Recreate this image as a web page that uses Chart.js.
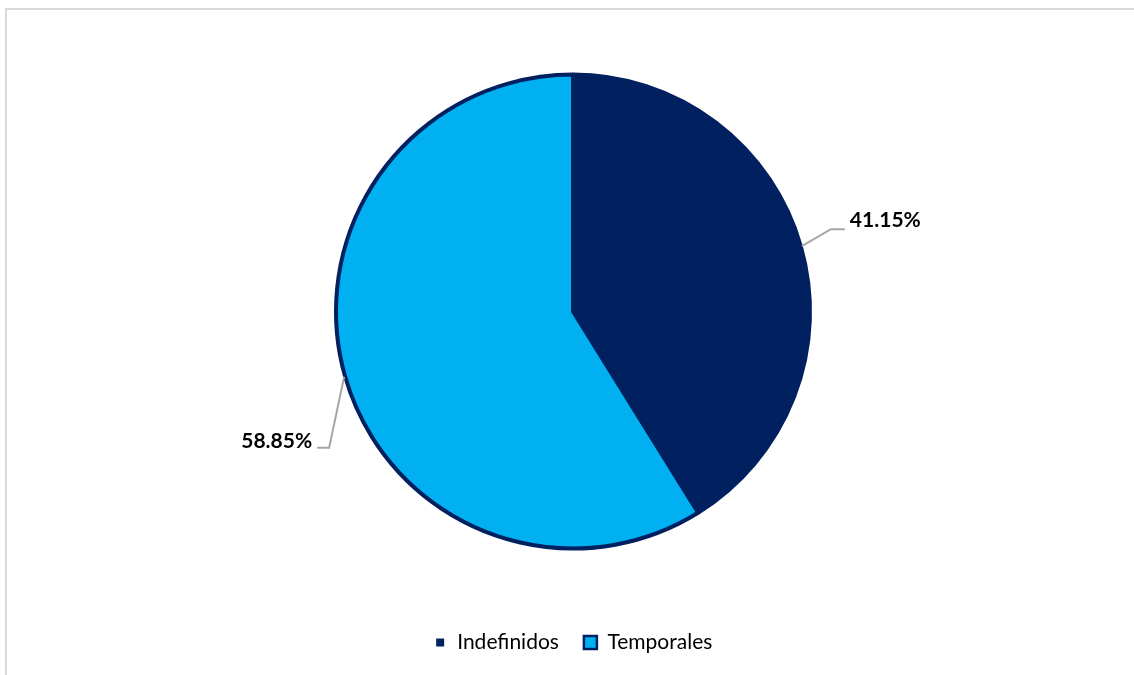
<!DOCTYPE html>
<html>
<head>
<meta charset="utf-8">
<script src="https://cdn.jsdelivr.net/npm/chart.js@4.4.0/dist/chart.umd.min.js"></script>
<style>
  html, body { margin: 0; padding: 0; background: #fff; overflow: hidden; }
  #frame {
    position: absolute; left: 5px; top: 8px; width: 1129px; height: 667px;
    border-top: 2px solid #d9d9d9; border-left: 2px solid #d9d9d9;
    box-sizing: border-box;
  }
  #wrap { position: absolute; left: 0; top: 0; width: 1134px; height: 675px; }
</style>
</head>
<body>
<div id="frame"></div>
<div id="wrap"><canvas id="chart" width="1134" height="675"></canvas></div>
<script>
const categorias = ['Indefinidos', 'Temporales'];
const porcentajes = [41.15, 58.85];
const etiquetas = ['41.15%', '58.85%'];

const azulOscuro = '#002060';
const azulClaro = '#00b0f0';

// leader line offsets from the slice edge (elbow, end, text anchor)
const guias = [
  { elbow: [29, -17], end: [43, -17], text: [48, -26], align: 'left' },
  { elbow: [-15, 71], end: [-27, 71], text: [-32, 64], align: 'right' }
];

const etiquetasPlugin = {
  id: 'etiquetas',
  afterDatasetsDraw(chart) {
    const ctx = chart.ctx;
    const meta = chart.getDatasetMeta(0);
    meta.data.forEach((arc, i) => {
      const p = arc.getProps(['x', 'y', 'startAngle', 'endAngle', 'outerRadius'], true);
      const mid = (p.startAngle + p.endAngle) / 2;
      const ex = p.x + Math.cos(mid) * (p.outerRadius + 1);
      const ey = p.y + Math.sin(mid) * (p.outerRadius + 1);
      const g = guias[i];
      ctx.save();
      ctx.strokeStyle = '#a6a6a6';
      ctx.lineWidth = 2;
      ctx.beginPath();
      ctx.moveTo(ex, ey);
      ctx.lineTo(ex + g.elbow[0], ey + g.elbow[1]);
      ctx.lineTo(ex + g.end[0], ey + g.end[1]);
      ctx.stroke();
      ctx.fillStyle = '#000';
      ctx.font = 'bold 21px Lato';
      ctx.textAlign = g.align;
      ctx.textBaseline = 'middle';
      ctx.fillText(etiquetas[i], ex + g.text[0], ey + g.text[1]);
      ctx.restore();
    });
  }
};

const ctx = document.getElementById('chart');

let mainChart = new Chart(ctx, {
  type: 'pie',
  data: {
    labels: categorias,
    datasets: [{
      data: porcentajes,
      backgroundColor: [azulOscuro, azulClaro],
      borderColor: [azulOscuro, azulOscuro],
      borderWidth: 4,
      radius: 237
    }]
  },
  options: {
    responsive: false,
    animation: false,
    layout: { padding: { top: 16, bottom: 12, left: 12, right: 0 } },
    plugins: {
      tooltip: { enabled: false },
      legend: {
        position: 'bottom',
        labels: {
          color: '#000',
          font: { family: 'Lato', size: 21 },
          boxWidth: 13,
          boxHeight: 13,
          padding: 25,
          generateLabels(chart) {
            return [
              { text: categorias[0], fillStyle: azulOscuro, strokeStyle: '#fff', lineWidth: 5, hidden: false, index: 0 },
              { text: categorias[1], fillStyle: azulClaro, strokeStyle: azulOscuro, lineWidth: 2.5, hidden: false, index: 1 }
            ];
          }
        }
      }
    }
  },
  plugins: [etiquetasPlugin]
});
</script>
</body>
</html>
